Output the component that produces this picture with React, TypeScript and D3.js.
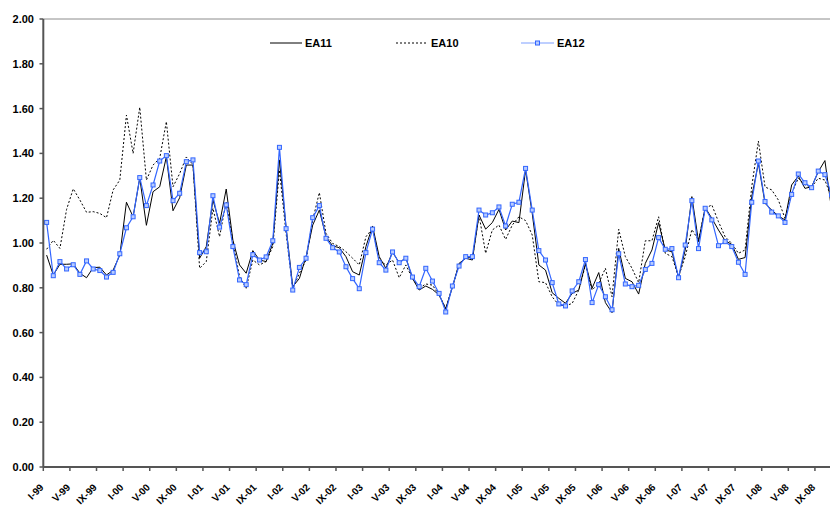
import React from "react";
import * as d3 from "d3";

const romans = ["I", "II", "III", "IV", "V", "VI", "VII", "VIII", "IX", "X", "XI", "XII"];
const years = ["99", "00", "01", "02", "03", "04", "05", "06", "07", "08"];
const months: string[] = years.flatMap((y) => romans.map((r) => `${r}-${y}`));

const ea11 = [
  0.946, 0.857, 0.905, 0.905, 0.907, 0.865, 0.845, 0.890, 0.892, 0.857, 0.879, 0.946,
  1.182, 1.117, 1.290, 1.079, 1.229, 1.251, 1.385, 1.144, 1.202, 1.348, 1.348, 0.932,
  0.984, 1.192, 1.088, 1.241, 1.013, 0.902, 0.865, 0.966, 0.924, 0.917, 0.998, 1.371,
  1.070, 0.805, 0.842, 0.939, 1.080, 1.147, 1.028, 0.987, 0.979, 0.939, 0.872, 0.857,
  0.984, 1.076, 0.939, 0.887, 0.960, 0.911, 0.935, 0.842, 0.790, 0.808, 0.793, 0.768,
  0.707, 0.802, 0.909, 0.932, 0.924, 1.125, 1.062, 1.091, 1.150, 1.058, 1.098, 1.091,
  1.326, 1.132, 0.902, 0.879, 0.778, 0.753, 0.731, 0.775, 0.790, 0.909, 0.798, 0.868,
  0.734, 0.689, 0.976, 0.842, 0.827, 0.772, 0.909, 0.969, 1.091, 0.969, 0.961, 0.845,
  0.969, 1.207, 1.006, 1.159, 1.110, 1.058, 1.010, 0.994, 0.927, 0.935, 1.207, 1.356,
  1.177, 1.147, 1.121, 1.103, 1.259, 1.299, 1.244, 1.251, 1.318, 1.368, 1.150, 1.150,
];

const ea10 = [
  0.972, 1.012, 0.976, 1.150, 1.242, 1.192, 1.137, 1.140, 1.132, 1.113, 1.237, 1.281,
  1.571, 1.400, 1.606, 1.281, 1.348, 1.378, 1.542, 1.251, 1.310, 1.384, 1.350, 0.887,
  0.917, 1.155, 1.028, 1.185, 1.006, 0.850, 0.798, 0.924, 0.902, 0.917, 0.984, 1.326,
  1.043, 0.795, 0.865, 0.924, 1.103, 1.225, 1.043, 0.998, 0.984, 0.961, 0.932, 0.902,
  1.028, 1.065, 0.924, 0.902, 0.924, 0.845, 0.902, 0.842, 0.798, 0.817, 0.812, 0.768,
  0.707, 0.805, 0.902, 0.939, 0.932, 1.125, 0.954, 1.058, 1.080, 1.016, 1.080, 1.117,
  1.100, 1.036, 0.827, 0.823, 0.760, 0.723, 0.720, 0.730, 0.790, 0.902, 0.790, 0.820,
  0.887, 0.760, 1.061, 0.939, 0.887, 0.823, 1.010, 1.010, 1.117, 0.954, 0.939, 0.850,
  0.939, 1.060, 1.013, 1.155, 1.170, 1.095, 1.028, 0.998, 0.954, 0.969, 1.251, 1.455,
  1.250, 1.237, 1.192, 1.110, 1.222, 1.289, 1.259, 1.250, 1.289, 1.281, 1.200, 1.200,
];

const ea12 = [
  1.092, 0.854, 0.917, 0.884, 0.903, 0.860, 0.920, 0.884, 0.877, 0.848, 0.869, 0.952,
  1.068, 1.117, 1.292, 1.167, 1.259, 1.366, 1.390, 1.189, 1.222, 1.363, 1.371, 0.957,
  0.961, 1.211, 1.071, 1.170, 0.984, 0.835, 0.814, 0.948, 0.924, 0.938, 1.010, 1.427,
  1.064, 0.790, 0.891, 0.932, 1.113, 1.167, 1.021, 0.979, 0.960, 0.894, 0.841, 0.796,
  0.957, 1.062, 0.912, 0.879, 0.960, 0.912, 0.932, 0.848, 0.805, 0.887, 0.830, 0.775,
  0.692, 0.808, 0.897, 0.939, 0.939, 1.147, 1.125, 1.135, 1.161, 1.076, 1.173, 1.182,
  1.333, 1.147, 0.966, 0.924, 0.823, 0.728, 0.719, 0.786, 0.827, 0.926, 0.734, 0.814,
  0.760, 0.702, 0.952, 0.817, 0.805, 0.811, 0.882, 0.909, 1.024, 0.972, 0.975, 0.845,
  0.991, 1.189, 0.975, 1.155, 1.103, 0.988, 1.006, 0.984, 0.914, 0.860, 1.182, 1.366,
  1.185, 1.138, 1.121, 1.092, 1.217, 1.308, 1.269, 1.247, 1.321, 1.305, 1.216, 1.200,
];

const yTicks = [0, 0.2, 0.4, 0.6, 0.8, 1.0, 1.2, 1.4, 1.6, 1.8, 2.0];
const legendNames = ["EA11", "EA10", "EA12"];

const W = 830;
const H = 505;
const left = 43.3;
const monthW = 6.652;
const top = 19;
const bottom = 467;

export default function App() {
  const x = d3.scaleBand<string>().domain(months).range([left, left + months.length * monthW]).padding(0);
  const y = d3.scaleLinear().domain([0, 2]).range([bottom, top]);
  const cx = (i: number) => (x(months[i]) as number) + x.bandwidth() / 2;
  const line = d3
    .line<number>()
    .x((_, i) => cx(i))
    .y((d) => y(d));

  const tickMonths = months.filter((_, i) => i % 4 === 0);
  const font = "'Liberation Sans', Arial, sans-serif";
  const blue = "#3366ff";

  return (
    <div style={{ position: "fixed", left: 0, top: 0 }}>
      <svg width={W} height={H} style={{ display: "block", background: "#fff" }} fontFamily={font}>
        <defs>
          <clipPath id="plot">
            <rect x={left} y={0} width={W - left} height={H} />
          </clipPath>
        </defs>
        {/* top border */}
        <line x1={left} x2={W} y1={top} y2={top} stroke="#8c8c8c" strokeWidth={1} />

        {/* y axis ticks and labels */}
        {yTicks.map((t) => (
          <g key={t}>
            <line x1={39.5} x2={left} y1={y(t)} y2={y(t)} stroke="#555" strokeWidth={1.5} />
            <text x={34} y={y(t) + 4} textAnchor="end" fontSize={11} fontWeight="bold" fill="#000">
              {t.toFixed(2)}
            </text>
          </g>
        ))}

        {/* x axis ticks and labels */}
        {tickMonths.map((m) => {
          const tx = x(m) as number;
          return (
            <g key={m}>
              <line x1={tx} x2={tx} y1={bottom} y2={bottom + 4} stroke="#555" strokeWidth={1.5} />
              <text
                transform={`translate(${tx + 1},${bottom + 21}) rotate(-45)`}
                textAnchor="end"
                fontSize={10}
                fontWeight="bold"
                fill="#000"
              >
                {m}
              </text>
            </g>
          );
        })}

        <g clipPath="url(#plot)">
          <path d={line(ea10) || ""} fill="none" stroke="#000" strokeWidth={1} strokeDasharray="2,2" />
          <path d={line(ea11) || ""} fill="none" stroke="#000" strokeWidth={1} />
          <path d={line(ea12) || ""} fill="none" stroke={blue} strokeWidth={1.2} />
          {ea12.map((v, i) => (
            <rect
              key={i}
              x={cx(i) - 2}
              y={y(v) - 2}
              width={4}
              height={4}
              fill="#b8ccff"
              stroke={blue}
              strokeWidth={1}
            />
          ))}
        </g>

        {/* axes lines */}
        <line x1={left} x2={left} y1={top} y2={bottom} stroke="#555" strokeWidth={2} />
        <line x1={left} x2={W} y1={bottom} y2={bottom} stroke="#555" strokeWidth={2} />

        {/* legend */}
        <g fontSize={11} fontWeight="bold">
          <line x1={270} x2={302} y1={43} y2={43} stroke="#000" strokeWidth={1} />
          <text x={305} y={47}>{legendNames[0]}</text>
          <line x1={396} x2={428} y1={43} y2={43} stroke="#000" strokeWidth={1} strokeDasharray="2,2" />
          <text x={431} y={47}>{legendNames[1]}</text>
          <line x1={521} x2={554} y1={43} y2={43} stroke="#7f9fff" strokeWidth={1.2} />
          <rect x={535.5} y={41} width={4} height={4} fill="#b8ccff" stroke={blue} strokeWidth={1} />
          <text x={557} y={47}>{legendNames[2]}</text>
        </g>
      </svg>
    </div>
  );
}
